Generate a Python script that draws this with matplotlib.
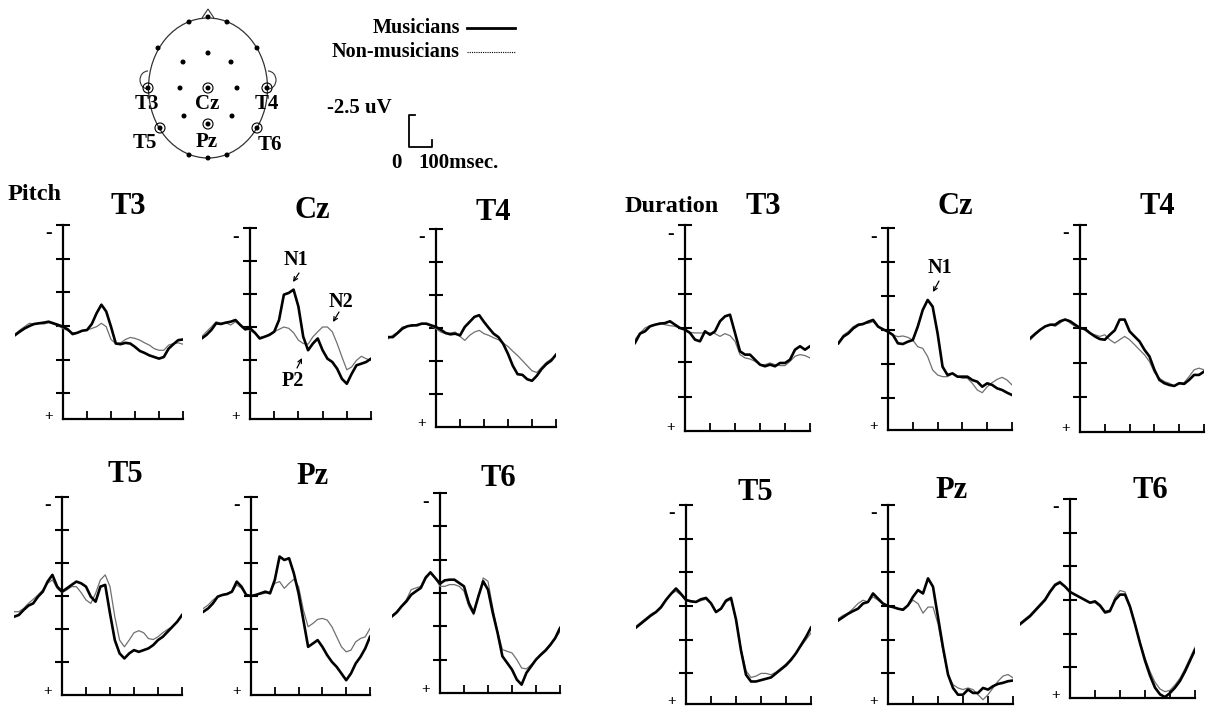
import numpy as np
import matplotlib
matplotlib.use("Agg")
import matplotlib.pyplot as plt
from matplotlib.patches import Ellipse, Circle, Arc, Polygon

plt.rcParams['font.family'] = ['Liberation Serif', 'DejaVu Serif']
plt.rcParams['font.weight'] = 'bold'

# ---------------- data (ms, uV; positive plotted downward) ----------------
time_ms = list(range(-200, 501, 20))

pitch_T3_mus = [0.68, 0.42, 0.18, 0.0, -0.15, -0.2, -0.25, -0.32, -0.2, -0.08, 0.05, 0.25, 0.6, 0.5, 0.35, 0.3,
                -0.15, -0.95, -1.58, -1.08, 0.05, 1.3, 1.35, 1.25, 1.3, 1.55, 1.85, 2.0, 2.18, 2.3, 2.42, 2.3, 1.68, 1.35, 1.05, 1.0]
pitch_T3_non = [0.6, 0.3, 0.05, -0.2, -0.15, -0.2, -0.15, -0.25, -0.15, 0.0, 0.18, 0.35, 0.5, 0.5, 0.35, 0.3,
                0.18, 0.05, -0.2, 0.05, 1.0, 1.3, 1.25, 1.0, 0.85, 0.92, 1.05, 1.25, 1.42, 1.68, 1.8, 1.8, 1.42, 1.3, 1.25, 1.35]

pitch_Cz_mus = [0.87, 0.6, 0.23, -0.28, -0.23, -0.33, -0.4, -0.53, -0.15, 0.18, 0.1, 0.43, 0.87, 0.74, 0.6, 0.36,
                -0.53, -2.45, -2.58, -2.83, -1.55, 0.74, 1.76, 1.25, 0.87, 1.76, 2.4, 2.65, 3.16, 3.93, 4.3, 3.55, 2.9, 2.78, 2.65, 2.4]
pitch_Cz_non = [0.74, 0.36, 0.0, -0.4, -0.28, -0.33, -0.15, -0.4, -0.15, 0.1, 0.23, 0.48, 0.8, 0.74, 0.54, 0.36,
                0.18, 0.0, 0.1, 0.43, 1.0, 1.25, 1.3, 0.74, 0.36, 0.0, 0.0, 0.36, 1.25, 2.27, 3.24, 3.03, 2.53, 2.22, 2.4, 2.53]

pitch_T4_mus = [0.69, 0.69, 0.38, 0.05, -0.13, -0.2, -0.2, -0.33, -0.33, -0.2, -0.08, 0.13, 0.38, 0.48, 0.43, 0.56,
                -0.08, -0.46, -0.84, -0.97, -0.46, 0.0, 0.43, 0.69, 1.2, 1.96, 2.86, 3.5, 3.55, 3.88, 4.0, 3.62, 3.11, 2.73, 2.47, 2.02]
pitch_T4_non = [0.82, 0.56, 0.31, -0.08, -0.13, -0.13, -0.28, -0.33, -0.28, -0.13, 0.05, 0.31, 0.43, 0.38, 0.31, 0.64,
                0.94, 0.56, 0.31, 0.18, 0.43, 0.56, 0.74, 0.89, 1.15, 1.4, 1.76, 2.09, 2.47, 2.86, 3.24, 3.37, 2.98, 2.6, 2.35, 2.09]

pitch_T5_mus = [1.57, 1.44, 1.06, 0.73, 0.56, 0.05, -0.33, -1.09, -1.6, -0.71, -0.33, -0.58, -0.84, -1.09, -0.96, -0.71,
                0.05, 0.43, -0.71, -0.84, 1.32, 3.34, 4.35, 4.73, 4.35, 4.1, 4.23, 4.1, 3.97, 3.72, 3.34, 3.09, 2.71, 2.33, 1.95, 1.44]
pitch_T5_non = [1.19, 1.19, 0.94, 0.56, 0.25, -0.08, -0.46, -0.96, -1.22, -0.58, -0.25, -0.46, -0.71, -0.71, -0.25, 0.3,
                0.56, -0.2, -1.22, -1.6, -0.71, 1.57, 3.34, 3.85, 3.34, 2.78, 2.63, 2.78, 3.22, 3.3, 3.09, 2.78, 2.53, 2.33, 1.95, 1.52]

pitch_Pz_mus = [1.19, 0.94, 0.56, 0.05, -0.08, -0.15, -0.33, -1.09, -0.71, -0.08, 0.0, -0.08, -0.2, -0.33, -0.2, -1.22,
                -2.99, -2.73, -2.86, -1.72, -0.2, 1.82, 3.85, 3.6, 3.34, 3.85, 4.48, 4.99, 5.37, 5.87, 6.38, 5.87, 5.11, 4.61, 3.97, 3.09]
pitch_Pz_non = [0.94, 0.68, 0.3, 0.05, -0.08, -0.2, -0.33, -0.84, -0.58, -0.08, 0.05, -0.08, -0.15, -0.2, -0.33, -0.96,
                -1.09, -0.58, -0.96, -1.27, -0.71, 1.06, 2.33, 2.08, 1.77, 1.7, 1.82, 2.33, 3.09, 3.85, 4.23, 4.1, 3.47, 3.22, 3.09, 2.46]

pitch_T6_mus = [1.75, 1.45, 1.0, 0.63, 0.13, -0.13, -0.38, -1.13, -1.55, -1.13, -0.7, -0.95, -1.0, -1.0, -0.75, -0.5,
                0.75, 1.5, 0.25, -0.88, -0.25, 1.5, 3.0, 4.75, 5.25, 5.75, 6.5, 6.88, 6.0, 5.5, 5.0, 4.63, 4.3, 3.88, 3.38, 2.63]
pitch_T6_non = [1.7, 1.38, 0.95, 0.5, -0.25, -0.38, -0.5, -1.25, -1.55, -1.13, -0.5, -0.5, -0.63, -0.63, -0.5, -0.13,
                1.0, 1.63, 0.25, -1.13, -0.88, 1.13, 2.88, 4.25, 4.38, 4.5, 5.0, 5.63, 5.7, 5.38, 5.0, 4.7, 4.38, 3.95, 3.45, 2.88]

dur_T3_mus = [1.09, 0.41, 0.24, -0.12, -0.24, -0.32, -0.36, -0.49, -0.24, 0.0, 0.12, 0.36, 0.85, 0.97, 0.24, 0.49,
              0.24, -0.49, -0.85, -0.97, 0.36, 1.7, 1.94, 1.94, 2.31, 2.67, 2.79, 2.67, 2.79, 2.55, 2.55, 2.31, 1.58, 1.33, 1.58, 1.33]
dur_T3_non = [0.85, 0.36, 0.0, -0.17, -0.24, -0.36, -0.24, -0.17, -0.12, 0.0, 0.12, 0.32, 0.36, 0.36, 0.36, 0.36,
              0.41, 0.61, 0.41, 0.56, 0.97, 1.94, 2.18, 2.26, 2.43, 2.67, 2.67, 2.55, 2.67, 2.74, 2.74, 2.43, 2.06, 1.94, 2.01, 2.18]

dur_Cz_mus = [0.98, 0.49, 0.25, -0.12, -0.37, -0.44, -0.61, -0.74, -0.25, -0.05, 0.12, 0.37, 0.98, 1.03, 0.86, 0.74,
              -0.25, -1.47, -2.21, -1.72, 0.25, 2.7, 3.31, 3.19, 3.43, 3.43, 3.43, 3.68, 3.8, 4.17, 3.92, 4.04, 4.29, 4.41, 4.61, 4.78]
dur_Cz_non = [0.93, 0.37, 0.12, -0.25, -0.44, -0.49, -0.49, -0.61, -0.25, 0.0, 0.12, 0.37, 0.49, 0.44, 0.54, 0.74,
              1.23, 1.35, 1.96, 2.94, 3.31, 3.43, 3.43, 3.19, 3.43, 3.55, 3.55, 3.92, 4.41, 4.61, 4.17, 3.87, 3.63, 3.48, 3.68, 4.04]

dur_T4_mus = [0.73, 0.41, 0.12, -0.12, -0.24, -0.24, -0.49, -0.61, -0.49, -0.24, 0.0, 0.07, 0.36, 0.61, 0.8, 0.85,
              0.49, 0.17, -0.61, -0.61, 0.24, 0.61, 0.97, 1.58, 2.06, 3.03, 3.76, 4.0, 4.13, 4.2, 4.0, 4.05, 3.76, 3.4, 3.4, 3.16]
dur_T4_non = [0.85, 0.49, 0.17, -0.12, -0.24, -0.12, -0.36, -0.66, -0.36, -0.12, 0.0, 0.17, 0.41, 0.49, 0.61, 0.49,
              0.85, 1.09, 0.85, 0.61, 0.85, 1.21, 1.58, 1.94, 2.43, 3.22, 3.64, 3.88, 4.0, 4.2, 4.05, 3.96, 3.52, 3.03, 2.91, 3.03]

dur_T5_mus = [1.6, 1.3, 1.0, 0.7, 0.45, 0.1, -0.45, -0.9, -1.3, -0.9, -0.45, -0.35, -0.3, -0.5, -0.6, -0.2,
              0.45, 0.2, -0.4, -0.6, 1.0, 3.3, 5.1, 5.6, 5.6, 5.5, 5.4, 5.3, 5.0, 4.7, 4.4, 4.0, 3.5, 2.9, 2.3, 1.6]
dur_T5_non = [1.5, 1.2, 0.9, 0.6, 0.4, 0.0, -0.5, -0.9, -1.1, -0.8, -0.4, -0.3, -0.3, -0.4, -0.5, -0.2,
              0.4, 0.2, -0.3, -0.5, 1.0, 3.2, 4.8, 5.3, 5.2, 5.0, 5.0, 5.1, 4.9, 4.6, 4.3, 3.9, 3.5, 3.0, 2.5, 2.0]

dur_Pz_mus = [1.08, 0.83, 0.58, 0.38, 0.2, -0.18, -0.3, -0.93, -0.55, -0.18, 0.0, 0.08, 0.2, 0.28, -0.05, -0.68,
              -1.18, -0.93, -2.05, -1.43, 0.83, 3.08, 5.08, 6.08, 6.58, 6.58, 6.2, 6.45, 6.45, 6.08, 6.2, 5.95, 5.78, 5.7, 5.58, 5.53]
dur_Pz_non = [0.95, 0.7, 0.53, 0.2, -0.18, -0.43, -0.3, -0.68, -0.43, -0.13, 0.0, 0.08, 0.2, 0.2, -0.05, -0.43,
              -0.18, 0.53, 0.08, 0.08, 1.33, 3.33, 5.08, 5.83, 6.08, 6.2, 6.08, 6.2, 6.58, 6.95, 6.58, 6.08, 5.58, 5.2, 5.08, 5.33]

dur_T6_mus = [1.8, 1.5, 1.2, 0.8, 0.4, 0.0, -0.6, -1.1, -1.3, -1.0, -0.6, -0.4, -0.2, 0.0, 0.2, 0.1,
              0.4, 0.9, 0.8, 0.0, -0.4, -0.4, 0.5, 1.8, 3.2, 4.5, 5.6, 6.5, 7.0, 7.2, 6.9, 6.5, 6.0, 5.3, 4.5, 3.7]
dur_T6_non = [1.7, 1.4, 1.1, 0.7, 0.3, -0.1, -0.7, -1.2, -1.4, -1.0, -0.6, -0.4, -0.2, 0.0, 0.2, 0.2,
              0.5, 1.0, 0.9, -0.2, -0.7, -0.6, 0.4, 1.8, 3.1, 4.3, 5.3, 6.1, 6.6, 6.8, 6.7, 6.3, 5.8, 5.1, 4.3, 3.5]

panel_names = ["T3", "Cz", "T4", "T5", "Pz", "T6"]
pitch_series = {"T3": (pitch_T3_mus, pitch_T3_non), "Cz": (pitch_Cz_mus, pitch_Cz_non),
                "T4": (pitch_T4_mus, pitch_T4_non), "T5": (pitch_T5_mus, pitch_T5_non),
                "Pz": (pitch_Pz_mus, pitch_Pz_non), "T6": (pitch_T6_mus, pitch_T6_non)}
dur_series = {"T3": (dur_T3_mus, dur_T3_non), "Cz": (dur_Cz_mus, dur_Cz_non),
              "T4": (dur_T4_mus, dur_T4_non), "T5": (dur_T5_mus, dur_T5_non),
              "Pz": (dur_Pz_mus, dur_Pz_non), "T6": (dur_T6_mus, dur_T6_non)}

# ---------------- layout (pixels) ----------------
W, H = 1209, 711
# axis_x, baseline_y, px/100ms, px/2.5uV, bottom extent (uV), title_x, title_y
pitch_layout = {"T3": (63, 326, 24, 33.7, 6.9, 128, 207),
                "Cz": (250, 327, 24.2, 33.0, 7.0, 312, 210),
                "T4": (436, 328, 24, 33.0, 7.5, 493, 212),
                "T5": (62, 596, 24, 33.0, 7.5, 125, 475),
                "Pz": (251, 596, 23.8, 33.0, 7.5, 313, 477),
                "T6": (440, 593, 24, 33.3, 7.5, 498, 478)}
dur_layout = {"T3": (685, 328, 25, 34.3, 7.5, 763, 207),
              "Cz": (888, 330, 24.8, 34.0, 7.35, 955, 207),
              "T4": (1080, 328, 24.8, 34.5, 7.5, 1157, 207),
              "T5": (686, 606, 25, 33.7, 7.3, 755, 492),
              "Pz": (888, 606, 25, 33.7, 7.3, 952, 490),
              "T6": (1070, 600, 25, 33.7, 7.3, 1150, 490)}

fig = plt.figure(figsize=(W / 100, H / 100), dpi=100)
fig.patch.set_facecolor('white')

ov = fig.add_axes([0, 0, 1, 1])
ov.set_xlim(0, W)
ov.set_ylim(H, 0)
ov.axis('off')
ov.patch.set_alpha(0)

def draw_panel(name, series, lay):
    ax_x, base, sx, sy, ybot, tx, ty = lay
    top_uV = -7.5
    left_px = ax_x - 2 * sx
    width_px = 7 * sx
    top_px = base + top_uV / 2.5 * sy
    bot_px = base + ybot / 2.5 * sy
    ax = fig.add_axes([left_px / W, 1 - bot_px / H, width_px / W, (bot_px - top_px) / H])
    ax.set_xlim(-200, 500)
    ax.set_ylim(ybot, top_uV)
    ax.patch.set_alpha(0)
    for s in ['top', 'right']:
        ax.spines[s].set_visible(False)
    ax.spines['left'].set_position(('data', 0))
    ax.spines['left'].set_linewidth(1.6)
    ax.spines['bottom'].set_linewidth(1.6)
    ax.spines['bottom'].set_bounds(0, 500)
    ax.set_yticks([-7.5, -5, -2.5, 0, 2.5, 5])
    ax.set_xticks([100, 200, 300, 400, 500])
    ax.tick_params(axis='y', direction='inout', length=10, width=1.5, labelleft=False)
    ax.tick_params(axis='x', direction='in', length=5.5, width=1.3, labelbottom=False)
    mus, non = series
    ax.plot(time_ms, non, color='#707070', lw=0.9, zorder=3)
    ax.plot(time_ms, mus, color='black', lw=1.9, zorder=4)
    # sign labels
    ov.text(ax_x - 14, top_px + 9, '-', ha='center', va='center', fontsize=14, fontweight='bold')
    ov.text(ax_x - 14, bot_px - 3, '+', ha='center', va='center', fontsize=11, fontweight='bold')
    ov.text(tx, ty, name, ha='center', va='center', fontsize=22, fontweight='bold')

for n in panel_names:
    draw_panel(n, pitch_series[n], pitch_layout[n])
    draw_panel(n, dur_series[n], dur_layout[n])

ov.text(8, 195, 'Pitch', ha='left', va='center', fontsize=17.5, fontweight='bold')
ov.text(625, 206, 'Duration', ha='left', va='center', fontsize=17.5, fontweight='bold')

# peak annotations
ann = dict(arrowstyle='->', lw=0.9, color='black', shrinkA=0, shrinkB=0, mutation_scale=7)
ov.text(296, 260, 'N1', ha='center', va='center', fontsize=14.5, fontweight='bold')
ov.annotate('', xy=(293, 282), xytext=(299, 273), arrowprops=ann)
ov.text(341, 302, 'N2', ha='center', va='center', fontsize=14.5, fontweight='bold')
ov.annotate('', xy=(333, 322), xytext=(339, 312), arrowprops=ann)
ov.text(293, 381, 'P2', ha='center', va='center', fontsize=14.5, fontweight='bold')
ov.annotate('', xy=(302, 358), xytext=(297, 368), arrowprops=ann)
ov.text(940, 268, 'N1', ha='center', va='center', fontsize=14.5, fontweight='bold')
ov.annotate('', xy=(933, 292), xytext=(939, 281), arrowprops=ann)

# ---------------- head diagram ----------------
hc = (208, 88)
ov.add_patch(Ellipse(hc, 119, 140, fill=False, lw=0.9, color='#333333'))
ov.add_patch(Polygon([(202, 18), (208, 9), (214, 18)], closed=False, fill=False, lw=0.8, color='#333333'))
ov.add_patch(Arc((148, 80), 16, 18, theta1=90, theta2=270, lw=0.8, color='#333333'))
ov.add_patch(Arc((268, 80), 16, 18, theta1=-90, theta2=90, lw=0.8, color='#333333'))
dots = [(208, 17), (189, 22), (227, 22), (158, 48), (257, 48), (189, 155), (208, 158), (227, 155),
        (208, 53), (183, 62), (231, 62), (180, 88), (237, 88), (184, 116), (232, 116)]
for (x, y) in dots:
    ov.add_patch(Circle((x, y), 1.8, color='black'))
circled = {"T3": (148, 88), "T4": (267, 88), "T5": (160, 128), "T6": (257, 128), "Cz": (208, 88), "Pz": (208, 124)}
for k, (x, y) in circled.items():
    ov.add_patch(Circle((x, y), 1.8, color='black'))
    ov.add_patch(Circle((x, y), 5, fill=False, lw=0.8, color='black'))
head_labels = {"T3": (147, 104), "Cz": (207, 104), "T4": (267, 104), "T5": (145, 143), "Pz": (207, 142), "T6": (270, 145)}
for k, (x, y) in head_labels.items():
    ov.text(x, y, k, ha='center', va='center', fontsize=15, fontweight='bold')

# ---------------- legend ----------------
ov.text(460, 28, 'Musicians', ha='right', va='center', fontsize=14.5, fontweight='bold')
ov.plot([467, 515], [28, 28], color='black', lw=2)
ov.text(460, 52, 'Non-musicians', ha='right', va='center', fontsize=14.5, fontweight='bold')
ov.plot([467, 515], [52, 52], color='black', lw=0.8, ls=(0, (1, 1)))

# ---------------- scale bar ----------------
ov.text(327, 108, '-2.5 uV', ha='left', va='center', fontsize=15, fontweight='bold')
ov.plot([415, 409, 409, 432, 432], [115, 115, 147, 147, 140], color='black', lw=1.3)
ov.text(396, 163, '0', ha='center', va='center', fontsize=15, fontweight='bold')
ov.text(418, 163, '100msec.', ha='left', va='center', fontsize=15, fontweight='bold')

fig.savefig('out.png', dpi=100, facecolor='white')
